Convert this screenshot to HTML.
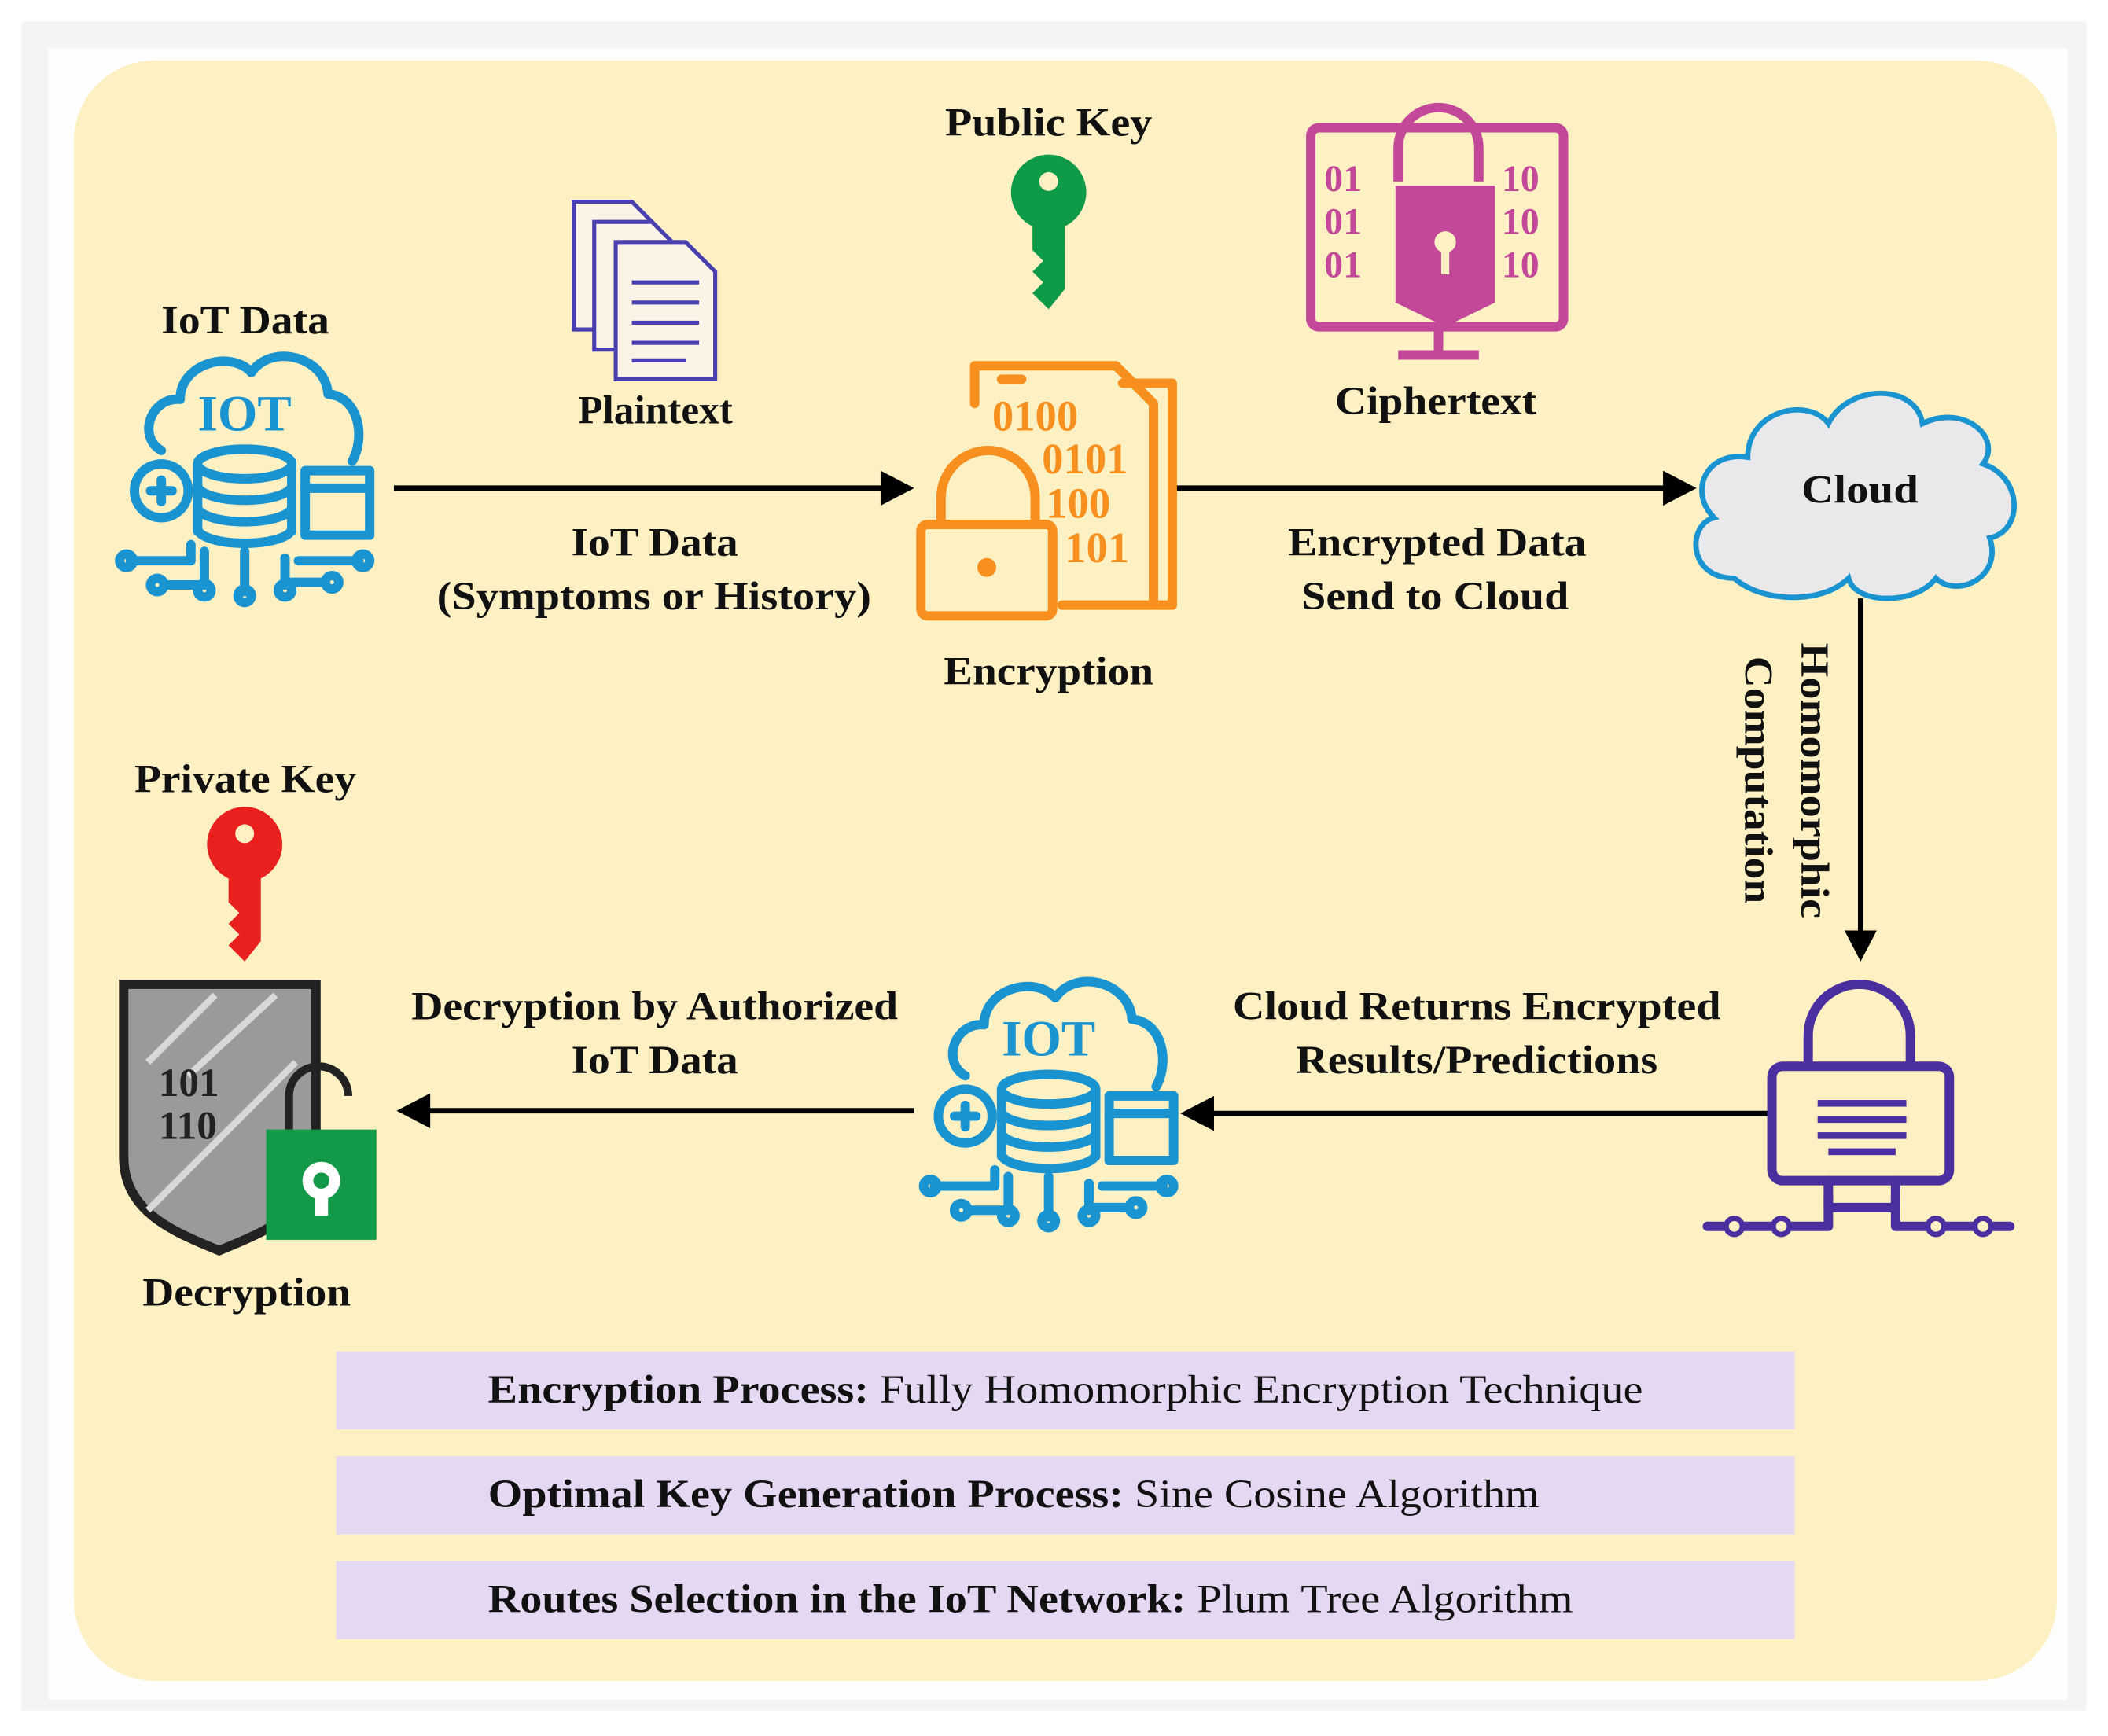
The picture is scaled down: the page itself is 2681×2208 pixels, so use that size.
<!DOCTYPE html>
<html><head><meta charset="utf-8"><style>
html,body{margin:0;padding:0;background:#fff;}
svg{display:block;}
text{font-family:"Liberation Serif",serif;}
</style></head><body>
<svg width="2681" height="2208" viewBox="0 0 1568 1291" preserveAspectRatio="none" xmlns="http://www.w3.org/2000/svg">
<defs>
<g id="iot" fill="none" stroke="#1a93d1" stroke-width="7" stroke-linecap="round" stroke-linejoin="round">
  <path d="M-62,-20 C-80,-30 -70,-60 -48,-58 C-48,-85 -10,-95 5,-78 C20,-100 60,-90 62,-62 C85,-60 90,-30 80,-12"/>
  <ellipse cx="0" cy="-10" rx="35" ry="11"/>
  <path d="M-35,-10 V40 M35,-10 V40"/>
  <path d="M-35,6 A35,11 0 0 0 35,6 M-35,22 A35,11 0 0 0 35,22 M-35,38 A35,11 0 0 0 35,38"/>
  <rect x="45" y="-5" width="48" height="48"/>
  <path d="M45,8 H93"/>
  <circle cx="-62" cy="10" r="20"/>
  <path d="M-62,2 V18 M-70,10 H-54"/>
  <path d="M-85,62 H-40 V50 M-60,80 H-30 V55 M0,85 V55 M30,80 V60 M60,78 H30 M40,62 H85"/>
  <circle cx="-88" cy="62" r="5"/><circle cx="-65" cy="80" r="5"/><circle cx="0" cy="88" r="5"/><circle cx="30" cy="84" r="5"/><circle cx="88" cy="62" r="5"/><circle cx="-30" cy="84" r="5"/><circle cx="65" cy="78" r="5"/>
</g>
</defs>
<rect x="16" y="16" width="1536" height="1256" fill="#f4f4f6"/>
<rect x="36" y="36" width="1502" height="1228" fill="#fefefe"/>
<rect x="55" y="45" width="1475" height="1205" rx="60" fill="#fdf0c3"/>

<!-- cloud -->
<path d="M1290,430 C1255,430 1255,390 1275,385 C1255,365 1270,335 1300,340 C1300,305 1345,295 1360,315 C1375,285 1425,285 1430,315 C1460,300 1490,325 1475,345 C1505,355 1505,395 1480,400 C1490,430 1455,445 1440,430 C1425,450 1380,450 1375,430 C1355,450 1310,448 1290,430 Z" fill="#e9e9ec" stroke="#1a93d1" stroke-width="4"/>

<!-- labels -->
<g font-weight="bold" font-size="30" fill="#111" lengthAdjust="spacingAndGlyphs">
<text x="120" y="248" textLength="125" lengthAdjust="spacingAndGlyphs">IoT Data</text>
<text x="703" y="101" textLength="154" lengthAdjust="spacingAndGlyphs">Public Key</text>
<text x="430" y="315" textLength="115" lengthAdjust="spacingAndGlyphs">Plaintext</text>
<text x="993" y="308" textLength="150" lengthAdjust="spacingAndGlyphs">Ciphertext</text>
<text x="1340" y="374" textLength="87" lengthAdjust="spacingAndGlyphs">Cloud</text>
<text x="425" y="413" textLength="124" lengthAdjust="spacingAndGlyphs">IoT Data</text>
<text x="325" y="453" textLength="323" lengthAdjust="spacingAndGlyphs">(Symptoms or History)</text>
<text x="702" y="509" textLength="156" lengthAdjust="spacingAndGlyphs">Encryption</text>
<text x="958" y="413" textLength="222" lengthAdjust="spacingAndGlyphs">Encrypted Data</text>
<text x="968" y="453" textLength="199" lengthAdjust="spacingAndGlyphs">Send to Cloud</text>
<text x="100" y="589" textLength="165" lengthAdjust="spacingAndGlyphs">Private Key</text>
<text x="306" y="758" textLength="362" lengthAdjust="spacingAndGlyphs">Decryption by Authorized</text>
<text x="425" y="798" textLength="124" lengthAdjust="spacingAndGlyphs">IoT Data</text>
<text x="917" y="758" textLength="363" lengthAdjust="spacingAndGlyphs">Cloud Returns Encrypted</text>
<text x="964" y="798" textLength="269" lengthAdjust="spacingAndGlyphs">Results/Predictions</text>
<text x="106" y="971" textLength="155" lengthAdjust="spacingAndGlyphs">Decryption</text>
<text transform="translate(1340,478) rotate(90)" textLength="205" lengthAdjust="spacingAndGlyphs">Homomorphic</text>
<text transform="translate(1298,488) rotate(90)" textLength="184" lengthAdjust="spacingAndGlyphs">Computation</text>
</g>

<!-- arrows -->
<g stroke="#000" stroke-width="4" fill="#000">
<line x1="293" y1="363" x2="660" y2="363"/><polygon points="680,363 655,350 655,376" stroke="none"/>
<line x1="875" y1="363" x2="1240" y2="363"/><polygon points="1262,363 1237,350 1237,376" stroke="none"/>
<line x1="1384" y1="445" x2="1384" y2="695"/><polygon points="1384,715 1372,692 1396,692" stroke="none"/>
<line x1="1318" y1="828" x2="900" y2="828"/><polygon points="878,828 903,815 903,841" stroke="none"/>
<line x1="680" y1="826" x2="315" y2="826"/><polygon points="295,826 320,813 320,839" stroke="none"/>
</g>

<!-- IoT icons -->
<use href="#iot" x="182" y="355"/>
<text x="182" y="320" font-family="Liberation Sans" font-weight="bold" font-size="38" fill="#1a93d1" text-anchor="middle">IOT</text>
<use href="#iot" x="780" y="820"/>
<text x="780" y="785" font-family="Liberation Sans" font-weight="bold" font-size="38" fill="#1a93d1" text-anchor="middle">IOT</text>

<!-- plaintext docs -->
<g fill="#fbf4e6" stroke="#4a3fb0" stroke-width="3">
<path d="M427,150 H470 L485,165 V245 H427 Z"/>
<path d="M442,165 H485 L500,180 V260 H442 Z"/>
<path d="M458,180 H510 L532,202 V282 H458 Z"/>
<path d="M470,210 H520 M470,225 H520 M470,240 H520 M470,255 H520 M470,268 H510"/>
</g>

<!-- public key -->
<g fill="#0e9a48">
<circle cx="780" cy="143" r="28"/>
<path d="M768,160 H792 V215 L780,230 L768,218 L776,210 L768,202 L776,194 L768,186 Z"/>
</g>
<circle cx="780" cy="135" r="7" fill="#fdf0c3"/>

<!-- encryption icon -->
<g fill="none" stroke="#f7901e" stroke-width="7" stroke-linejoin="round" stroke-linecap="round">
<path d="M725,300 V272 H830 L858,300 V450 H790"/>
<path d="M835,285 H872 V450 H860"/>
<path d="M700,390 V370 A35,35 0 0 1 770,370 V390"/>
<rect x="685" y="390" width="98" height="68" rx="5"/>
<path d="M745,282 H760"/>
</g>
<circle cx="734" cy="422" r="7" fill="#f7901e"/>
<g font-family="Liberation Sans" font-weight="bold" font-size="32" fill="#f7901e">
<text x="738" y="320">0100</text><text x="775" y="352">0101</text><text x="778" y="385">100</text><text x="792" y="418">101</text>
</g>

<!-- ciphertext monitor -->
<g fill="none" stroke="#c4489a" stroke-width="7" stroke-linejoin="round">
<rect x="975" y="95" width="188" height="148" rx="6"/>
<path d="M1040,135 V110 A30,30 0 0 1 1100,110 V135"/>
<path d="M1070,243 V262 M1040,264 H1100"/>
</g>
<path d="M1038,138 H1112 V225 L1075,243 L1038,225 Z" fill="#c4489a"/>
<circle cx="1075" cy="180" r="8" fill="#fdf0c3"/><rect x="1072" y="186" width="6" height="18" fill="#fdf0c3"/>
<g font-family="Liberation Sans" font-weight="bold" font-size="28" fill="#c4489a">
<text x="985" y="142">01</text><text x="985" y="174">01</text><text x="985" y="206">01</text>
<text x="1117" y="142">10</text><text x="1117" y="174">10</text><text x="1117" y="206">10</text>
</g>

<!-- purple lock -->
<g fill="none" stroke="#4b2fa0" stroke-width="7" stroke-linejoin="round" stroke-linecap="round">
<path d="M1345,790 V770 A38,38 0 0 1 1421,770 V790"/>
<rect x="1318" y="793" width="132" height="85" rx="8"/>
<path d="M1360,878 V898 H1410 V878"/>
<path d="M1360,890 V912 H1270 M1410,890 V912 H1495"/>
</g>
<g fill="#4b2fa0">
<circle cx="1290" cy="912" r="8"/><circle cx="1325" cy="912" r="8"/><circle cx="1440" cy="912" r="8"/><circle cx="1475" cy="912" r="8"/>
</g>
<g fill="#fdf0c3"><circle cx="1290" cy="912" r="4"/><circle cx="1325" cy="912" r="4"/><circle cx="1440" cy="912" r="4"/><circle cx="1475" cy="912" r="4"/></g>
<g fill="#4b2fa0">
<rect x="1352" y="818" width="66" height="5"/><rect x="1352" y="830" width="66" height="5"/><rect x="1352" y="842" width="66" height="5"/><rect x="1360" y="854" width="50" height="5"/>
</g>

<!-- private key -->
<g fill="#e8201e">
<circle cx="182" cy="628" r="28"/>
<path d="M170,645 H194 V700 L182,715 L170,703 L178,695 L170,687 L178,679 L170,671 Z"/>
</g>
<circle cx="182" cy="620" r="7" fill="#fdf0c3"/>

<!-- decryption shield -->
<path d="M92,732 H235 V860 C235,900 200,915 163,930 C126,915 92,900 92,860 Z" fill="#9a9a9a" stroke="#222" stroke-width="7"/>
<g stroke="#d8d8d8" stroke-width="5"><line x1="110" y1="790" x2="160" y2="740"/><line x1="140" y1="800" x2="205" y2="740"/><line x1="110" y1="900" x2="220" y2="790"/></g>
<g font-family="Liberation Mono" font-weight="bold" font-size="30" fill="#222"><text x="118" y="815">101</text><text x="118" y="847">110</text></g>
<path d="M215,840 V815 A22,22 0 0 1 259,815" fill="none" stroke="#222" stroke-width="6"/>
<rect x="198" y="840" width="82" height="82" fill="#129a48"/>
<circle cx="239" cy="878" r="14" fill="#fff"/><circle cx="239" cy="878" r="6" fill="#129a48"/>
<rect x="234" y="890" width="10" height="14" fill="#fff"/>

<!-- bottom boxes -->
<g fill="#e5d8f2">
<rect x="250" y="1005" width="1085" height="58"/>
<rect x="250" y="1083" width="1085" height="58"/>
<rect x="250" y="1161" width="1085" height="58"/>
</g>
<g font-size="30" fill="#111">
<text x="363" y="1043" textLength="859" lengthAdjust="spacingAndGlyphs"><tspan font-weight="bold">Encryption Process:</tspan> Fully Homomorphic Encryption Technique</text>
<text x="363" y="1121" textLength="782" lengthAdjust="spacingAndGlyphs"><tspan font-weight="bold">Optimal Key Generation Process:</tspan> Sine Cosine Algorithm</text>
<text x="363" y="1199" textLength="807" lengthAdjust="spacingAndGlyphs"><tspan font-weight="bold">Routes Selection in the IoT Network:</tspan> Plum Tree Algorithm</text>
</g>
</svg>
</body></html>
